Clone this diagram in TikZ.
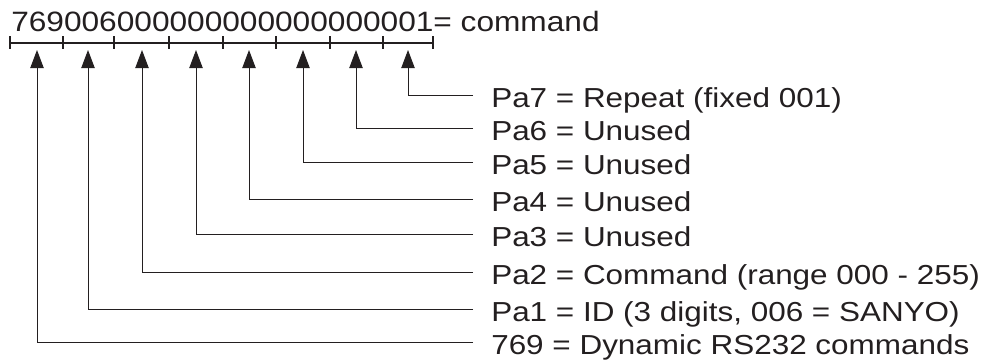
\documentclass[tikz,border=0pt]{standalone}
\usepackage{fontspec}
\usepackage{tikz}
\usetikzlibrary{arrows.meta}
\newfontfamily\labfont[FakeStretch=1.145]{Liberation Sans}
\newfontfamily\cmdfont[FakeStretch=1.13]{Liberation Sans}
\definecolor{ink}{HTML}{231F20}
\tikzset{
  lab/.style={anchor=west,inner xsep=13.5pt,inner ysep=0pt,text height=18.4pt,text depth=0pt,
    font={\labfont\fontsize{20.6}{24}\selectfont},text=ink},
  lead/.style={draw=ink,line width=0.7pt,-{Triangle[length=13.5pt,width=10pt]}},
  scalebar/.style={draw=ink,line width=1.2pt}
}
\begin{document}
\begin{tikzpicture}[x=0.75pt,y=-0.75pt]
        \useasboundingbox (0,0) rectangle (988,361);%
        \node[anchor=base west,inner sep=0pt,text=ink,font={\cmdfont\fontsize{21}{25}\selectfont}] (cmd) at (11,31) {769006000000000000000001= command};%
        \draw[scalebar] (10,43) -- (433,43);%
        \draw[scalebar] (10,36) -- (10,49);%
        \draw[scalebar] (63,36) -- (63,49);%
        \draw[scalebar] (114,36) -- (114,49);%
        \draw[scalebar] (169,36) -- (169,49);%
        \draw[scalebar] (223,36) -- (223,49);%
        \draw[scalebar] (276,36) -- (276,49);%
        \draw[scalebar] (330,36) -- (330,49);%
        \draw[scalebar] (383,36) -- (383,49);%
        \draw[scalebar] (433,36) -- (433,49);%
        \coordinate (a0) at (37,50);%
        \coordinate (a1) at (88,50);%
        \coordinate (a2) at (142,50);%
        \coordinate (a3) at (196,50);%
        \coordinate (a4) at (249,50);%
        \coordinate (a5) at (303,50);%
        \coordinate (a6) at (356,50);%
        \coordinate (a7) at (408,50);%
        \node[lab] (pa7) at (473,95) {Pa7 = Repeat (fixed 001)};%
        \node[lab] (pa6) at (473,128) {Pa6 = Unused};%
        \node[lab] (pa5) at (473,162) {Pa5 = Unused};%
        \node[lab] (pa4) at (473,199) {Pa4 = Unused};%
        \node[lab] (pa3) at (473,234) {Pa3 = Unused};%
        \node[lab] (pa2) at (473,272) {Pa2 = Command (range 000 - 255)};%
        \node[lab] (pa1) at (473,309) {Pa1 = ID (3 digits, 006 = SANYO)};%
        \node[lab] (pa0) at (473,342) {769 = Dynamic RS232 commands};%
        \draw[lead] (pa7.west) -| (a7);%
        \draw[lead] (pa6.west) -| (a6);%
        \draw[lead] (pa5.west) -| (a5);%
        \draw[lead] (pa4.west) -| (a4);%
        \draw[lead] (pa3.west) -| (a3);%
        \draw[lead] (pa2.west) -| (a2);%
        \draw[lead] (pa1.west) -| (a1);%
        \draw[lead] (pa0.west) -| (a0);%
      \end{tikzpicture}
\end{document}
